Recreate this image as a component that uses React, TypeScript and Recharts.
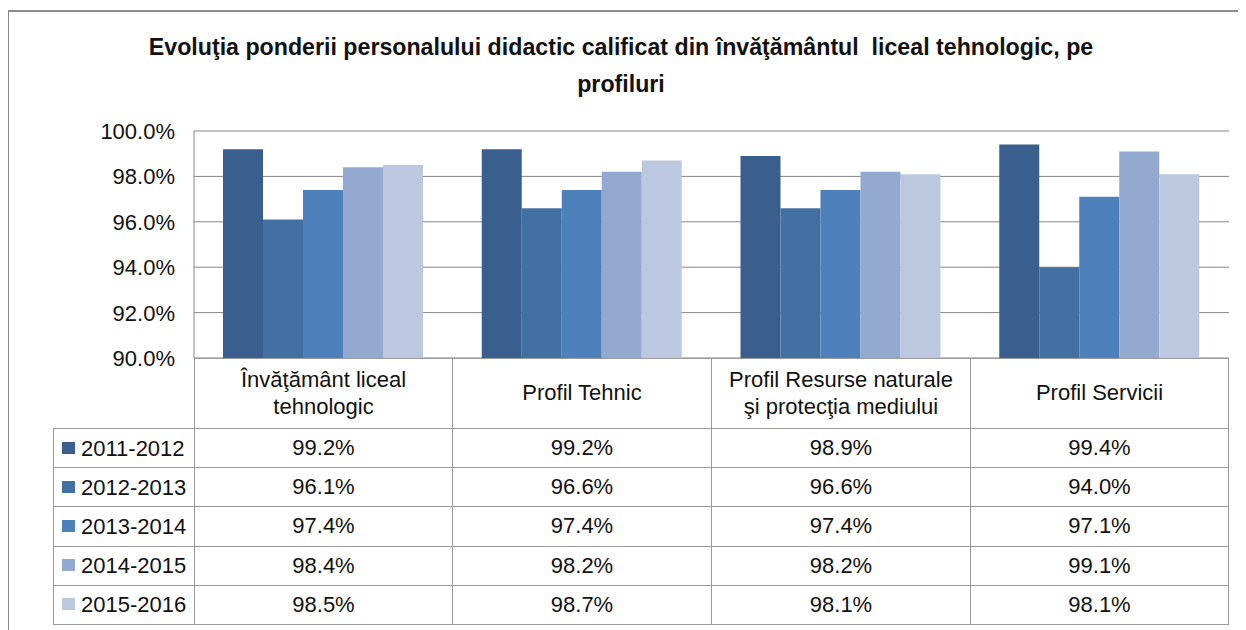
import React from "react";
import { BarChart, Bar, XAxis, YAxis, CartesianGrid } from "recharts";

// categories (x) and the series
const categories = [
  "Învăţământ liceal tehnologic",
  "Profil Tehnic",
  "Profil Resurse naturale şi protecţia mediului",
  "Profil Servicii",
];
const seriesNames = ["2011-2012", "2012-2013", "2013-2014", "2014-2015", "2015-2016"];
const v2011 = [99.2, 99.2, 98.9, 99.4];
const v2012 = [96.1, 96.6, 96.6, 94.0];
const v2013 = [97.4, 97.4, 97.4, 97.1];
const v2014 = [98.4, 98.2, 98.2, 99.1];
const v2015 = [98.5, 98.7, 98.1, 98.1];
const seriesColors = ["#3a5f8e", "#4270a2", "#4e80bc", "#94a9cf", "#bbc8e0"];
const yTicks = [90, 92, 94, 96, 98, 100];

const seriesValues = [v2011, v2012, v2013, v2014, v2015];
const data = categories.map((name, i) => {
  const row: Record<string, string | number> = { name };
  seriesNames.forEach((s, k) => {
    row[s] = seriesValues[k][i];
  });
  return row;
});

const FONT = '"Liberation Sans", Arial, sans-serif';
const LINE = "1px solid #9a9a9a";
const fmt = (v: number) => v.toFixed(1) + "%";

const YTick = (props: any) => {
  const { x, y, payload } = props;
  return (
    <text x={x} y={y} dy="0.36em" textAnchor="end" fontFamily={FONT} fontSize={22} fill="#111">
      {fmt(payload.value)}
    </text>
  );
};

const colWidths = [258, 259, 259, 258];

const App = () => {
  return (
    <div style={{ position: "relative", width: 1238, height: 622, overflow: "hidden", fontFamily: FONT, color: "#111" }}>
      {/* outer frame */}
      <div
        style={{
          position: "absolute",
          left: -1,
          top: 2,
          width: 1400,
          height: 800,
          borderTop: "2px solid #8c8c8c",
          borderLeft: "2px solid #8c8c8c",
        }}
      />

      <div
        style={{
          position: "absolute",
          left: 113,
          top: 21,
          width: 1000,
          textAlign: "center",
          fontWeight: "bold",
          fontSize: 23.2,
          lineHeight: "37px",
        }}
      >
        Evoluţia ponderii personalului didactic calificat din învăţământul&nbsp; liceal tehnologic, pe profiluri
      </div>

      <div style={{ position: "absolute", left: 0, top: 0 }}>
        <BarChart
          width={1238}
          height={380}
          data={data}
          margin={{ top: 123, right: 17, left: 0, bottom: 30 }}
          barCategoryGap={29}
          barGap={0}
        >
          <CartesianGrid vertical={false} stroke="#868686" strokeWidth={1} />
          <XAxis dataKey="name" hide />
          <YAxis
            width={186}
            domain={[90, 100]}
            ticks={yTicks}
            tickSize={0}
            tickMargin={19}
            tickLine={false}
            axisLine={{ stroke: "#868686" }}
            tick={<YTick />}
            interval={0}
          />
          {seriesNames.map((s, k) => (
            <Bar key={s} dataKey={s} fill={seriesColors[k]} isAnimationActive={false} />
          ))}
        </BarChart>
      </div>

      {/* data table */}
      <table
        style={{
          position: "absolute",
          left: 45,
          top: 350,
          borderCollapse: "collapse",
          tableLayout: "fixed",
          fontSize: 22,
        }}
      >
        <colgroup>
          <col style={{ width: 141 }} />
          {colWidths.map((w, i) => (
            <col key={i} style={{ width: w }} />
          ))}
        </colgroup>
        <tbody>
          <tr style={{ height: 70 }}>
            <td style={{ border: "none", padding: 0 }} />
            {categories.map((c) => (
              <td
                key={c}
                style={{
                  border: LINE,
                  textAlign: "center",
                  verticalAlign: "middle",
                  lineHeight: "26.5px",
                  padding: "0 12px",
                }}
              >
                {c}
              </td>
            ))}
          </tr>
          {seriesNames.map((s, k) => (
            <tr key={s} style={{ height: 39.2 }}>
              <td style={{ border: LINE, padding: "0 0 0 8px", whiteSpace: "nowrap", verticalAlign: "middle" }}>
                <span
                  style={{
                    display: "inline-block",
                    width: 13,
                    height: 12,
                    background: seriesColors[k],
                    marginRight: 6,
                    verticalAlign: "middle",
                    position: "relative",
                    top: -1,
                  }}
                />
                <span style={{ verticalAlign: "middle" }}>{s}</span>
              </td>
              {seriesValues[k].map((v, i) => (
                <td key={i} style={{ border: LINE, textAlign: "center", verticalAlign: "middle", padding: 0 }}>
                  {fmt(v)}
                </td>
              ))}
            </tr>
          ))}
        </tbody>
      </table>
    </div>
  );
};

export default App;
